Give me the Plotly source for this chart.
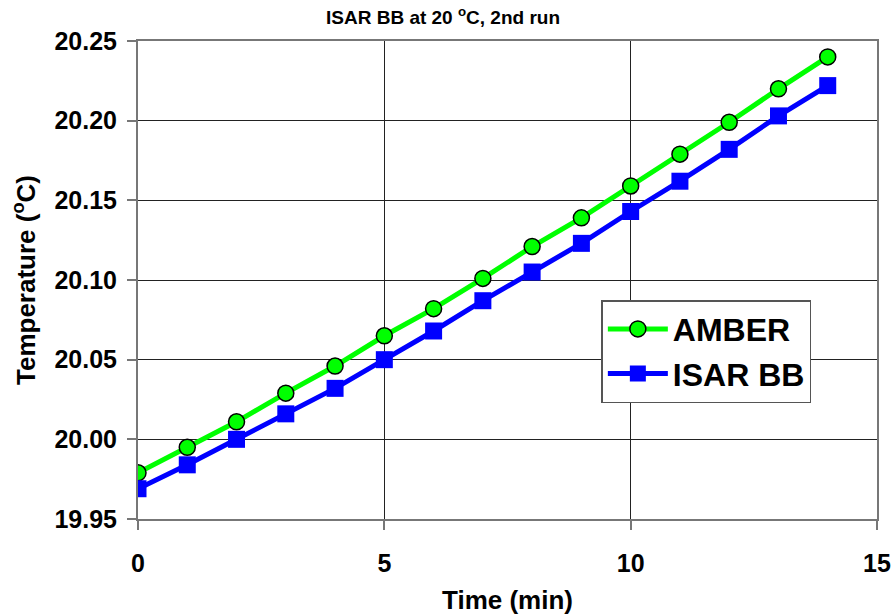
import plotly.graph_objects as go

time_min = list(range(15))
amber = [19.979, 19.995, 20.011, 20.029, 20.046, 20.065, 20.082, 20.101,
         20.121, 20.139, 20.159, 20.179, 20.199, 20.220, 20.240]
isar_bb = [19.969, 19.984, 20.000, 20.016, 20.032, 20.050, 20.068, 20.087,
           20.105, 20.123, 20.143, 20.162, 20.182, 20.203, 20.222]
series_names = ["AMBER", "ISAR BB"]

fig = go.Figure()
fig.add_trace(go.Scatter(
    x=time_min, y=amber, name="<b>" + series_names[0] + "</b>", mode="lines+markers",
    line=dict(color="#00FF00", width=5),
    marker=dict(symbol="circle", size=16, color="#00FF00",
                line=dict(color="black", width=1.5))))
fig.add_trace(go.Scatter(
    x=time_min, y=isar_bb, name="<b>" + series_names[1] + "</b>", mode="lines+markers",
    line=dict(color="#0000FF", width=5),
    marker=dict(symbol="square", size=17, color="#0000FF",
                line=dict(color="#0000FF", width=0))))

font_fam = "Liberation Sans, Arial, sans-serif"
fig.update_layout(
    width=895, height=616,
    margin=dict(l=138, r=18, t=41, b=97, autoexpand=False),
    paper_bgcolor="white", plot_bgcolor="white",
    font=dict(family=font_fam, color="black"),
    title=dict(text="<b>ISAR BB at 20 <sup>o</sup>C, 2nd run</b>",
               x=0.495, xanchor="center", y=0.972, yanchor="middle",
               font=dict(size=19, family=font_fam)),
    showlegend=True,
    legend=dict(x=0.627, y=0.458, xanchor="left", yanchor="top",
                bgcolor="white", bordercolor="#555", borderwidth=1.5,
                font=dict(size=32, family=font_fam),
                itemwidth=60, tracegroupgap=0),
    annotations=[
        dict(text="<b>Time (min)</b>", xref="paper", yref="paper",
             x=0.5, y=0, yshift=-81, xanchor="center", yanchor="middle",
             showarrow=False, font=dict(size=26, family=font_fam)),
        dict(text="<b>Temperature (<sup>o</sup>C)</b>", xref="paper", yref="paper",
             x=0, y=0.5, xshift=-114, xanchor="center", yanchor="middle",
             textangle=-90, showarrow=False, font=dict(size=26, family=font_fam)),
    ],
)
fig.update_xaxes(
    range=[0, 15], dtick=5, tick0=0, automargin=False,
    showgrid=True, gridcolor="#222", gridwidth=1,
    showline=True, linecolor="#777", linewidth=2, mirror=True,
    ticks="outside", ticklen=9, tickcolor="#777", tickwidth=1.5,
    ticklabelstandoff=12,
    zeroline=False,
    tickfont=dict(size=25, family=font_fam),
    tickprefix="<b>", ticksuffix="</b>",
)
fig.update_yaxes(
    range=[19.95, 20.25], dtick=0.05, tick0=19.95, tickformat=".2f", automargin=False,
    showgrid=True, gridcolor="#222", gridwidth=1,
    showline=True, linecolor="#777", linewidth=2, mirror=True,
    ticks="outside", ticklen=9, tickcolor="#777", tickwidth=1.5,
    ticklabelstandoff=5,
    zeroline=False,
    tickfont=dict(size=25, family=font_fam),
    tickprefix="<b>", ticksuffix="</b>",
)
fig.write_html("out.html")
